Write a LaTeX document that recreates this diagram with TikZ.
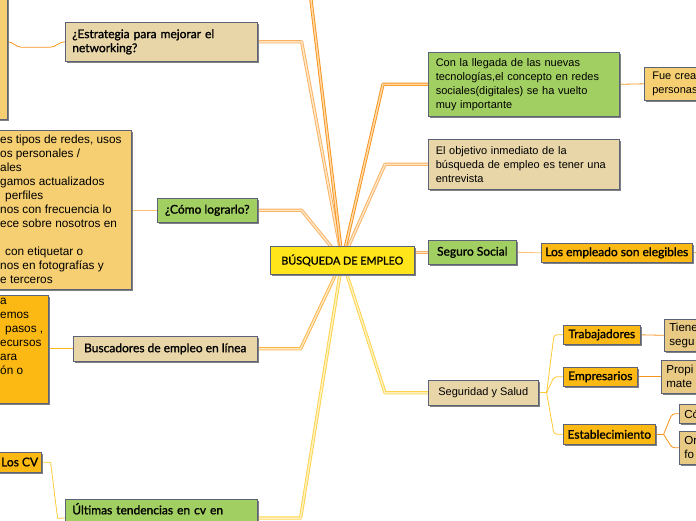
\documentclass[tikz,border=0pt]{standalone}
\usepackage{fontspec}
\setmainfont{Liberation Sans}
\newfontfamily\medf{Lato}[FakeBold=1.2]
\usetikzlibrary{shadows,backgrounds}
\definecolor{tanc}{HTML}{E8D5A8}
\definecolor{grn}{HTML}{A2CF62}
\definecolor{ylw}{HTML}{F6CF72}
\definecolor{org}{HTML}{FDB913}
\definecolor{cenc}{HTML}{FFE51A}
\definecolor{gld}{HTML}{E9CA85}
\definecolor{bord}{HTML}{5C6378}
\definecolor{shad}{HTML}{808080}
\definecolor{lnA}{HTML}{F7941D}
\definecolor{lnAi}{HTML}{FFD9A8}
\definecolor{lnB}{HTML}{FAB060}
\definecolor{lnBi}{HTML}{FFE6C4}
\definecolor{lnC}{HTML}{FDB54A}
\definecolor{lnCi}{HTML}{FFE8BC}
\definecolor{lnD}{HTML}{FFD24A}
\definecolor{lnDi}{HTML}{FFF2BE}
\definecolor{thO}{HTML}{F7941D}
\definecolor{thY}{HTML}{FFC933}
\definecolor{thL}{HTML}{FDC070}
\begin{document}
\begin{tikzpicture}[x=1pt,y=-1pt,
  bx/.style={draw=bord, line width=0.6pt, anchor=north west, inner xsep=7pt, inner ysep=2pt,
    drop shadow={shadow xshift=1.6pt, shadow yshift=-1.6pt, fill=shad, opacity=1}},
  rg/.style={font=\fontsize{11}{14}\selectfont},
  rgb/.style={font=\fontsize{11.6}{14}\selectfont},
  md/.style={font=\medf\fontsize{12}{14}\selectfont},
  txt/.style={anchor=north west, inner sep=0pt, align=left, font=\fontsize{11.8}{14}\selectfont},
  dl/.style 2 args={draw=#1, double=#2, line width=0.9pt, double distance=1.5pt, line join=round},
  th/.style={draw=#1, line width=0.8pt, line join=round}]
\useasboundingbox (0,0) rectangle (696,520);

% left side
\node[bx, fill=ylw, minimum width=27pt, minimum height=139pt] (ltop) at (-20,-20) {};
\node[bx, fill=tanc, md, minimum width=192pt, minimum height=39pt, text width=178pt, align=left] (estr) at (65,22) {¿Estrategia para mejorar el\\networking?};
\node[bx, fill=ylw, minimum width=151pt, minimum height=159pt] (lbig) at (-20,130) {};
\node[txt] (lbigt) at (0,135) {es tipos de redes, usos\\os personales /\\ales\\gamos actualizados\\\hspace*{5pt}perfiles\\nos con frecuencia lo\\ece sobre nosotros en\\[14pt]\hspace*{5pt}con etiquetar o\\nos en fotografías y\\e terceros};
\node[bx, fill=grn, md, minimum width=100pt, minimum height=24pt] (como) at (157,198) {¿Cómo lograrlo?};
\node[bx, fill=org, minimum width=68pt, minimum height=108pt] (lorg) at (-20,295) {};
\node[txt] (lorgt) at (0,297.5) {a\\emos\\\hspace*{5pt}pasos ,\\ecursos\\ara\\ón o};
\node[bx, fill=tanc, md, minimum width=184pt, minimum height=25pt] (busc) at (73,336) {Buscadores de empleo en línea};
\node[bx, fill=org, md, minimum width=61pt, minimum height=20pt] (lcv) at (-20,452) {};
\node[anchor=west, inner sep=0pt, md] (lcvt) at (1,462) {Los CV};
\node[bx, fill=grn, md, minimum width=192pt, text width=178pt, align=left, inner ysep=3pt, text height=12pt, text depth=26pt] (ult) at (65,499) {Últimas tendencias en cv en};
\coordinate (ultc) at ([yshift=-19pt]ult.north east);

% center
\node[bx, fill=cenc, font=\medf\fontsize{10.8}{13}\selectfont, inner xsep=4pt, minimum width=144pt, minimum height=28pt] (cen) at (270,246) {BÚSQUEDA DE EMPLEO};
\coordinate (topend) at (310.4,-5);

% right side
\node[bx, fill=grn, rg, minimum width=191pt, minimum height=64pt, text width=176pt, inner xsep=7.5pt, align=left] (lleg) at (428,52) {Con la llegada de las nuevas\\tecnologías,el concepto en redes\\sociales(digitales) se ha vuelto\\muy importante};
\node[bx, fill=ylw, rg, minimum width=80pt, minimum height=33pt, text width=64pt, inner xsep=8pt, align=left] (fue) at (644,67) {Fue crea\\personas};
\node[bx, fill=tanc, rg, minimum width=191pt, minimum height=50pt, text width=176pt, inner xsep=7.5pt, align=left] (obj) at (428,139) {El objetivo inmediato de la\\búsqueda de empleo es tener una\\entrevista};
\node[bx, fill=grn, md, minimum width=88pt, minimum height=24pt] (seg) at (428,240) {Seguro Social};
\node[bx, fill=org, md, inner xsep=3pt, minimum width=151pt, minimum height=19pt, inner ysep=1pt] (emp) at (541,243) {Los empleado son elegibles};
\coordinate (empend) at (700,252.5);
\node[bx, fill=tanc, rg, minimum width=110pt, minimum height=25pt] (salud) at (428,380) {Seguridad y Salud};
\node[bx, fill=org, md, inner xsep=4pt, minimum width=77pt, minimum height=19pt, inner ysep=1pt] (trab) at (563,325) {Trabajadores};
\node[bx, fill=org, md, inner xsep=4pt, minimum width=74pt, minimum height=19pt, inner ysep=1pt] (empr) at (563,367) {Empresarios};
\node[bx, fill=org, md, inner xsep=4pt, minimum width=92pt, minimum height=20pt, inner ysep=1pt] (estab) at (563,424) {Establecimiento};
\node[bx, fill=gld, rgb, minimum width=60pt, minimum height=32pt, text width=50pt, inner xsep=5pt, align=left] (tiene) at (664,319) {Tiene\\segu};
\node[bx, fill=gld, rgb, minimum width=60pt, minimum height=33pt, text width=50pt, inner xsep=5pt, align=left] (propi) at (661,360) {Propi\\mate};
\node[bx, fill=gld, rgb, minimum width=40pt, minimum height=19pt, text width=30pt, inner xsep=5pt, inner ysep=1pt, align=left] (co) at (679,404) {Có};
\node[bx, fill=gld, rgb, minimum width=40pt, minimum height=33pt, text width=30pt, inner xsep=5pt, align=left] (or) at (679,431) {Or\\fo};

\begin{scope}[on background layer]
  \draw[dl={lnB}{lnBi}] (estr.east) -- ++(44,0) -- (cen.center);
  \draw[dl={lnA}{lnAi}] (cen.center) -- (topend);
  \draw[dl={lnA}{lnAi}] (lleg.west) -- ++(-45,0) -- (cen.center);
  \draw[dl={lnB}{lnBi}] (obj.west) -- ++(-43,0) -- (cen.center);
  \draw[dl={lnB}{lnBi}] (como.east) -- ++(44,0) -- (cen.center);
  \draw[dl={lnB}{lnBi}] (seg.west) -- (seg.west -| cen.east);
  \draw[dl={lnC}{lnCi}] (busc.east) -- ++(43,0) -- (cen.center);
  \draw[dl={lnD}{lnDi}] (ultc) -- ++(43,0) -- (cen.center);
  \draw[dl={lnD}{lnDi}] (salud.west) -- ++(-43,0) -- (cen.center);
  % thin
  \draw[th=thO] (ltop.east |- estr.west) to[out=0,in=180] ++(14,5.5) -- ++(28,0) to[out=0,in=180] (estr.west);
  \draw[th=thL] (como.west) -- (como.west -| lbig.east);
  \draw[th=org] (busc.west) -- (busc.west -| lorg.east);
  \draw[th=thY] (lcv.east) -- ++(9,0) -- ++(7,56) -- ([yshift=-19pt]ult.north west);
  \draw[th=thO] (lleg.east) -- (fue.west);
  \draw[th=thL] (seg.east) -- (emp.west);
  \draw[th=thO] (emp.east) -- (empend);
  \coordinate (fk1) at ([xshift=8pt]salud.east);
  \draw[th=thY] (salud.east) -- (fk1);
  \draw[th=thY, rounded corners=3pt] (fk1) -- ([xshift=-9pt]trab.west) -- (trab.west);
  \draw[th=thY, rounded corners=3pt] (fk1) -- ([xshift=-9pt]empr.west) -- (empr.west);
  \draw[th=thY, rounded corners=3pt] (fk1) -- ([xshift=-9pt]estab.west) -- (estab.west);
  \draw[th=thO] (trab.east) -- (tiene.west);
  \draw[th=thO] (empr.east) -- (propi.west);
  \coordinate (fk2) at ([xshift=8pt]estab.east);
  \draw[th=thO] (estab.east) -- (fk2);
  \draw[th=thO, rounded corners=3pt] (fk2) -- ([xshift=-7pt]co.west) -- (co.west);
  \draw[th=thO, rounded corners=3pt] (fk2) -- ([xshift=-7pt]or.west) -- (or.west);
\end{scope}
\end{tikzpicture}
\end{document}
